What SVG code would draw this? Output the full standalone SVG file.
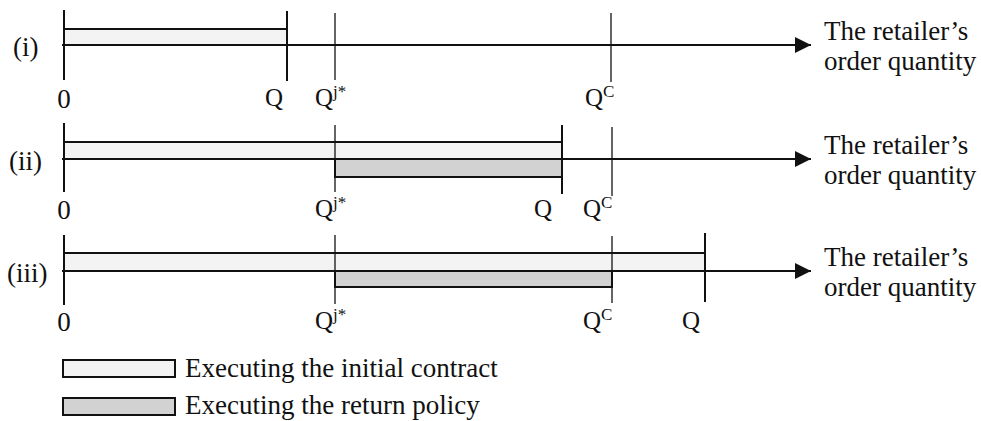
<svg xmlns="http://www.w3.org/2000/svg" width="981" height="421" viewBox="0 0 981 421">
<style>
.lbl{font-family:"Liberation Serif","Times New Roman",serif;font-size:27px;fill:#111}
.q{font-family:"Liberation Serif","Times New Roman",serif;font-size:25px;fill:#111}
.sup{font-size:17px}
.axis{stroke:#111;stroke-width:2;fill:none}
.tk{stroke:#111;stroke-width:2}
.tn{stroke:#111;stroke-width:1.3}
.b1{fill:#f3f3f3;stroke:#111;stroke-width:2}
.b2{fill:#d2d2d2;stroke:#111;stroke-width:2}
</style>
<defs>
<marker id="ah" markerWidth="16" markerHeight="16" refX="16" refY="8" orient="auto" markerUnits="userSpaceOnUse">
<path d="M0,0 L16,8 L0,16 Z" fill="#111"/>
</marker>
</defs>

<g id="row1">
<rect class="b1" x="64" y="29" width="223" height="16"/>
<line class="axis" x1="62" y1="45" x2="811" y2="45" marker-end="url(#ah)"/>
<line class="tk" x1="64" y1="10" x2="64" y2="80"/>
<line class="tk" x1="287" y1="11" x2="287" y2="81"/>
<line class="tn" x1="335" y1="13" x2="335" y2="80"/>
<line class="tn" x1="611" y1="13" x2="611" y2="82"/>
<text class="lbl" x="13" y="56">(i)</text>
<text class="lbl" x="64" y="108" text-anchor="middle">0</text>
<text class="q" x="265" y="106">Q</text>
<text class="q" x="315" y="106">Q<tspan class="sup" dy="-9">j*</tspan></text>
<text class="q" x="585" y="106">Q<tspan class="sup" dy="-9">C</tspan></text>
<text class="lbl" x="824" y="40">The retailer’s</text>
<text class="lbl" x="824" y="70">order quantity</text>
</g>

<g id="row2">
<rect class="b1" x="64" y="142" width="498" height="17"/>
<rect class="b2" x="335" y="159" width="227" height="18"/>
<line class="axis" x1="62" y1="159" x2="811" y2="159" marker-end="url(#ah)"/>
<line class="tk" x1="64" y1="123" x2="64" y2="192"/>
<line class="tn" x1="335" y1="125" x2="335" y2="192"/>
<line class="tk" x1="562" y1="125" x2="562" y2="194"/>
<line class="tn" x1="612" y1="127" x2="612" y2="196"/>
<text class="lbl" x="9" y="170">(ii)</text>
<text class="lbl" x="64" y="219" text-anchor="middle">0</text>
<text class="q" x="315" y="217">Q<tspan class="sup" dy="-9">j*</tspan></text>
<text class="q" x="534" y="217">Q</text>
<text class="q" x="583" y="217">Q<tspan class="sup" dy="-9">C</tspan></text>
<text class="lbl" x="824" y="154">The retailer’s</text>
<text class="lbl" x="824" y="184">order quantity</text>
</g>

<g id="row3">
<rect class="b1" x="64" y="253" width="641" height="18"/>
<rect class="b2" x="335" y="271" width="277" height="16"/>
<line class="axis" x1="62" y1="271" x2="811" y2="271" marker-end="url(#ah)"/>
<line class="tk" x1="64" y1="235" x2="64" y2="305"/>
<line class="tn" x1="335" y1="235" x2="335" y2="304"/>
<line class="tn" x1="612" y1="236" x2="612" y2="303"/>
<line class="tk" x1="705" y1="233" x2="705" y2="302"/>
<text class="lbl" x="7" y="282">(iii)</text>
<text class="lbl" x="64" y="331" text-anchor="middle">0</text>
<text class="q" x="315" y="329">Q<tspan class="sup" dy="-9">j*</tspan></text>
<text class="q" x="583" y="329">Q<tspan class="sup" dy="-9">C</tspan></text>
<text class="q" x="682" y="329">Q</text>
<text class="lbl" x="824" y="266">The retailer’s</text>
<text class="lbl" x="824" y="296">order quantity</text>
</g>

<g id="legend">
<rect class="b1" x="63" y="360" width="112" height="17"/>
<text class="lbl" x="185" y="377">Executing the initial contract</text>
<rect class="b2" x="63" y="398" width="112" height="17"/>
<text class="lbl" x="185" y="414">Executing the return policy</text>
</g>
</svg>
